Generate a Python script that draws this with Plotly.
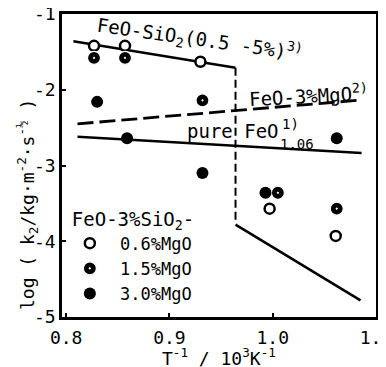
import plotly.graph_objects as go

# ---------------- data ----------------
open_x = [0.827, 0.857, 0.930, 0.997, 1.061]
open_y = [-1.42, -1.42, -1.63, -3.57, -3.93]
half_x = [0.827, 0.857, 0.932, 1.005, 1.062]
half_y = [-1.58, -1.58, -2.14, -3.36, -3.57]
full_x = [0.830, 0.859, 0.932, 0.993, 1.062]
full_y = [-2.16, -2.64, -3.10, -3.36, -2.64]

sio2_solid1_x = [0.807, 0.964]
sio2_solid1_y = [-1.36, -1.71]
sio2_dash_x = [0.964, 0.964]
sio2_dash_y = [-1.71, -3.76]
sio2_solid2_x = [0.964, 1.085]
sio2_solid2_y = [-3.78, -4.78]

mgo_x = [0.811, 1.086]
mgo_y = [-2.45, -2.135]
pure_x = [0.811, 1.086]
pure_y = [-2.62, -2.835]

xtick_vals = [0.8, 0.9, 1.0, 1.1]
xtick_text = ["0.8", "0.9", "1.0", "1.1"]
ytick_vals = [-1, -2, -3, -4, -5]
ytick_text = ["-1", "-2", "-3", "-4", "-5"]

legend_title = "FeO-3%SiO<sub>2</sub>-"
legend_names = [" 0.6%MgO", " 1.5%MgO", " 3.0%MgO"]

FONT = "DejaVu Sans Mono"
BLK = "black"

fig = go.Figure()

line_style = dict(color=BLK, width=2.5)
fig.add_trace(go.Scatter(x=sio2_solid1_x, y=sio2_solid1_y, mode="lines",
                         line=line_style, showlegend=False, hoverinfo="skip"))
fig.add_trace(go.Scatter(x=sio2_dash_x, y=sio2_dash_y, mode="lines",
                         line=dict(color=BLK, width=2, dash="8px,4px"),
                         showlegend=False, hoverinfo="skip"))
fig.add_trace(go.Scatter(x=sio2_solid2_x, y=sio2_solid2_y, mode="lines",
                         line=line_style, showlegend=False, hoverinfo="skip"))
fig.add_trace(go.Scatter(x=mgo_x, y=mgo_y, mode="lines",
                         line=dict(color=BLK, width=2.8, dash="16px,6px"),
                         showlegend=False, hoverinfo="skip"))
fig.add_trace(go.Scatter(x=pure_x, y=pure_y, mode="lines",
                         line=line_style, showlegend=False, hoverinfo="skip"))

fig.add_trace(go.Scatter(x=open_x, y=open_y, mode="markers", name=legend_names[0],
                         marker=dict(symbol="circle", size=10, color="white",
                                     line=dict(color=BLK, width=2.5))))
fig.add_trace(go.Scatter(x=half_x, y=half_y, mode="markers", name=legend_names[1],
                         marker=dict(symbol="circle-dot", size=13, color=BLK,
                                     line=dict(color="white", width=1.2))))
fig.add_trace(go.Scatter(x=full_x, y=full_y, mode="markers", name=legend_names[2],
                         marker=dict(symbol="circle", size=12, color=BLK,
                                     line=dict(color=BLK, width=0))))

annots = [
    dict(x=0.929, y=-1.34, xref="x", yref="y",
         text="FeO-SiO<sub>2</sub>(0.5 -5%)<sup>3)</sup>", textangle=8,
         showarrow=False, font=dict(size=19)),
    dict(x=1.035, y=-2.07, xref="x", yref="y",
         text="FeO-3%MgO<sup>2)</sup>", textangle=-3,
         showarrow=False, font=dict(size=19)),
    dict(x=0.915, y=-2.55, xref="x", yref="y", xanchor="left",
         text="pure FeO", showarrow=False, font=dict(size=19)),
    dict(x=1.007, y=-2.45, xref="x", yref="y", xanchor="left",
         text="1)", showarrow=False, font=dict(size=14)),
    dict(x=1.005, y=-2.72, xref="x", yref="y", xanchor="left",
         text="1.06", showarrow=False, font=dict(size=14)),
    dict(x=-0.111, y=0.37, xref="paper", yref="paper", textangle=-90,
         xanchor="center", yanchor="middle",
         text="log ( k<sub>2</sub>/kg·m<sup>-2</sup>·s<sup>-½</sup> )",
         showarrow=False, font=dict(size=18)),
    dict(x=0.5, y=-0.174, xref="paper", yref="paper",
         xanchor="center", yanchor="bottom", borderpad=0,
         text="T<sup>-1</sup> / 10<sup>3</sup>K<sup>-1</sup>",
         showarrow=False, font=dict(size=18)),
]

axis_common = dict(showgrid=False, zeroline=False, showline=True, linecolor=BLK,
                   linewidth=2.5, mirror=True, ticks="inside", ticklen=4,
                   tickwidth=2, tickcolor=BLK, tickfont=dict(size=18, color=BLK),
                   automargin=False, ticklabeloverflow="allow")

# figure is placed 8px from the page corner (default body margin)
fig.update_layout(
    width=378, height=359,
    margin=dict(l=54, r=10, t=6, b=50),
    paper_bgcolor="white", plot_bgcolor="white",
    font=dict(family=FONT, color=BLK),
    annotations=annots,
    xaxis=dict(range=[0.796, 1.1], tickvals=xtick_vals, ticktext=xtick_text,
               ticklabelstandoff=3, **axis_common),
    yaxis=dict(range=[-5, -1], tickvals=ytick_vals, ticktext=ytick_text,
               **axis_common),
    legend=dict(x=0.025, y=0.383, xanchor="left", yanchor="top",
                bgcolor="rgba(0,0,0,0)", font=dict(size=17),
                title=dict(text=legend_title, font=dict(size=19)),
                tracegroupgap=0, itemwidth=30),
    showlegend=True,
)

fig.write_html("out.html")
